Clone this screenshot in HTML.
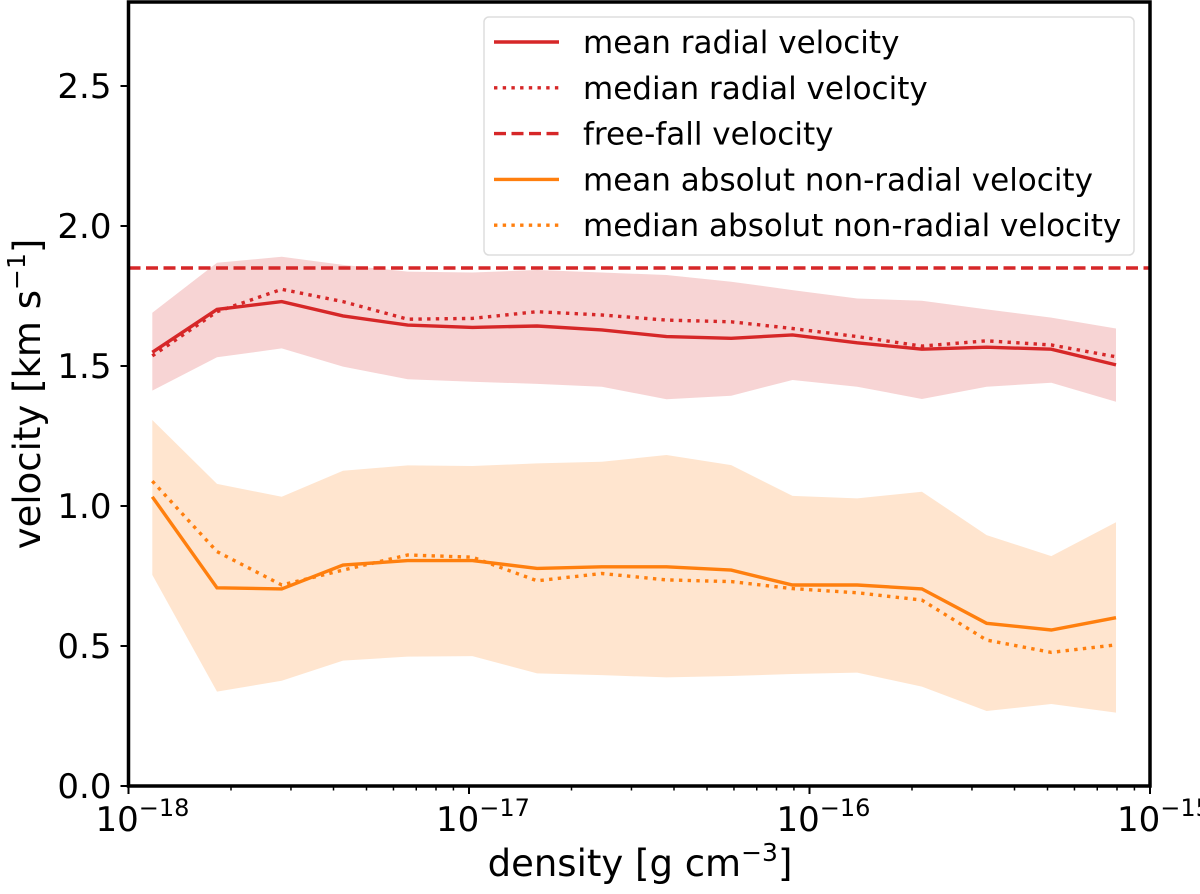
<!DOCTYPE html>
<html><head><meta charset="utf-8"><style>
html,body{margin:0;padding:0;background:#fff;}
svg text{font-family:"DejaVu Sans","Liberation Sans",sans-serif;fill:#000;}
</style></head><body>
<svg id="chart" width="1200" height="889" viewBox="0 0 1200 889" xmlns="http://www.w3.org/2000/svg">
<g id="plot"></g>
</svg>
<script>
const logDensity = [-17.93,-17.74,-17.55,-17.37,-17.18,-16.99,-16.80,-16.61,-16.42,-16.23,-16.05,-15.86,-15.67,-15.48,-15.29,-15.10];
const meanRadial = [1.549,1.702,1.73,1.679,1.646,1.638,1.643,1.629,1.605,1.599,1.611,1.583,1.56,1.567,1.56,1.504];
const medianRadial = [1.536,1.694,1.774,1.73,1.667,1.67,1.694,1.682,1.664,1.658,1.634,1.605,1.571,1.59,1.575,1.533];
const radialUpper = [1.69,1.869,1.89,1.861,1.837,1.834,1.843,1.834,1.825,1.801,1.771,1.741,1.733,1.702,1.673,1.634];
const radialLower = [1.412,1.531,1.563,1.498,1.453,1.444,1.436,1.426,1.381,1.394,1.45,1.426,1.382,1.426,1.44,1.372];
const meanNonRadial = [1.033,0.708,0.704,0.789,0.805,0.805,0.777,0.783,0.783,0.771,0.718,0.718,0.704,0.581,0.557,0.601];
const medianNonRadial = [1.089,0.837,0.718,0.771,0.825,0.817,0.733,0.759,0.736,0.73,0.705,0.69,0.664,0.521,0.477,0.504];
const nonRadialUpper = [1.307,1.079,1.033,1.126,1.145,1.143,1.152,1.158,1.182,1.146,1.036,1.027,1.051,0.896,0.821,0.942];
const nonRadialLower = [0.754,0.337,0.376,0.448,0.462,0.464,0.402,0.396,0.388,0.393,0.4,0.405,0.355,0.268,0.293,0.262];
const freeFall = [1.85];
const yTicks = [0.0,0.5,1.0,1.5,2.0,2.5];
const yTickLabels = ["0.0","0.5","1.0","1.5","2.0","2.5"];
const xTickExps = [-18,-17,-16,-15];
const xTickLabels = ["\u221218","\u221217","\u221216","\u221215"];

const L=128.5,R=1150,T=2,B=786;
const xMin=-18,xMax=-15,yMin=0,yMax=2.8;
const xs=v=>L+(v-xMin)/(xMax-xMin)*(R-L);
const ys=v=>B-(v-yMin)/(yMax-yMin)*(B-T);
const NS="http://www.w3.org/2000/svg";
const svg=document.getElementById('plot');
function mk(tag,attrs,parent){const e=document.createElementNS(NS,tag);for(const k in attrs)e.setAttribute(k,attrs[k]);(parent||svg).appendChild(e);return e;}
function pts(arr){return arr.map((v,i)=>xs(logDensity[i]).toFixed(1)+','+ys(v).toFixed(1)).join(' ');}
function band(up,lo){return pts(up)+' '+lo.map((v,i)=>[xs(logDensity[i]),ys(v)]).reverse().map(p=>p[0].toFixed(1)+','+p[1].toFixed(1)).join(' ');}

let e;
e=mk('polygon',{points:band(radialUpper,radialLower),fill:'#d62728','fill-opacity':0.2});


e=mk('polygon',{points:band(nonRadialUpper,nonRadialLower),fill:'#ff7f0e','fill-opacity':0.2});


e=mk('line',{x1:L,x2:R,y1:ys(freeFall[0]),y2:ys(freeFall[0]),stroke:'#d62728','stroke-width':3.4,'stroke-dasharray':'12,5.5'});


e=mk('polyline',{points:pts(meanRadial),fill:'none',stroke:'#d62728','stroke-width':3.4});


e=mk('polyline',{points:pts(medianRadial),fill:'none',stroke:'#d62728','stroke-width':3.4,'stroke-dasharray':'3.4,5.3'});


e=mk('polyline',{points:pts(meanNonRadial),fill:'none',stroke:'#ff7f0e','stroke-width':3.4});


e=mk('polyline',{points:pts(medianNonRadial),fill:'none',stroke:'#ff7f0e','stroke-width':3.4,'stroke-dasharray':'3.4,5.3'});



e=mk('rect',{x:L,y:T,width:R-L,height:B-T,fill:'none',stroke:'#000','stroke-width':3.5});



yTicks.forEach((v,i)=>{
  const t=mk('line',{x1:L-8,x2:L,y1:ys(v),y2:ys(v),stroke:'#000','stroke-width':2});
  
  
  const tx=mk('text',{x:L-17,y:ys(v)+12,'text-anchor':'end','font-size':34});
  tx.textContent=yTickLabels[i];
  
  
});
xTickExps.forEach((p,i)=>{
  const x=xs(p);
  const t=mk('line',{x1:x,x2:x,y1:B,y2:B+8,stroke:'#000','stroke-width':2});
  
  
  const tx=mk('text',{x:x+14,y:B+45,'text-anchor':'middle','font-size':34});
  
  
  const b=document.createElementNS(NS,'tspan');b.textContent='10';tx.appendChild(b);
  const s=document.createElementNS(NS,'tspan');s.setAttribute('dy','-15');s.setAttribute('font-size','24');s.textContent=xTickLabels[i];tx.appendChild(s);
  if(i<xTickExps.length-1){
    for(let k=2;k<=9;k++){
      const mx=xs(p+Math.log10(k));
      const m=mk('line',{x1:mx,x2:mx,y1:B,y2:B+4.5,stroke:'#000','stroke-width':1.5});
      
      
    }
  }
});
e=mk('text',{x:640,y:876,'text-anchor':'middle','font-size':37});


e.innerHTML='density [g cm<tspan dy="-15" font-size="25">\u22123</tspan><tspan dy="15">]</tspan>';
e=mk('text',{x:0,y:0,'text-anchor':'middle','font-size':37,transform:'translate(40,394) rotate(-90)'});


e.innerHTML='velocity [km s<tspan dy="-15" font-size="25">\u22121</tspan><tspan dy="15">]</tspan>';

const lg=mk('g',{});


e=mk('rect',{x:484,y:17,width:650,height:238,rx:5,fill:'#fff','fill-opacity':0.85,stroke:'#ddd','stroke-width':1.5},lg);


const legItems=[
 ['mean radial velocity','#d62728',''],
 ['median radial velocity','#d62728','3.4,5.3'],
 ['free-fall velocity','#d62728','12,5.5'],
 ['mean absolut non-radial velocity','#ff7f0e',''],
 ['median absolut non-radial velocity','#ff7f0e','3.4,5.3']];
legItems.forEach((it,i)=>{
  const y=42+i*45.8;
  const ln=mk('line',{x1:494,x2:559,y1:y,y2:y,stroke:it[1],'stroke-width':3.4,'stroke-dasharray':it[2]||'none'},lg);
  
  
  const tx=mk('text',{x:583,y:y+11,'font-size':31},lg);
  tx.textContent=it[0];
  
  
});
</script>
</body></html>
